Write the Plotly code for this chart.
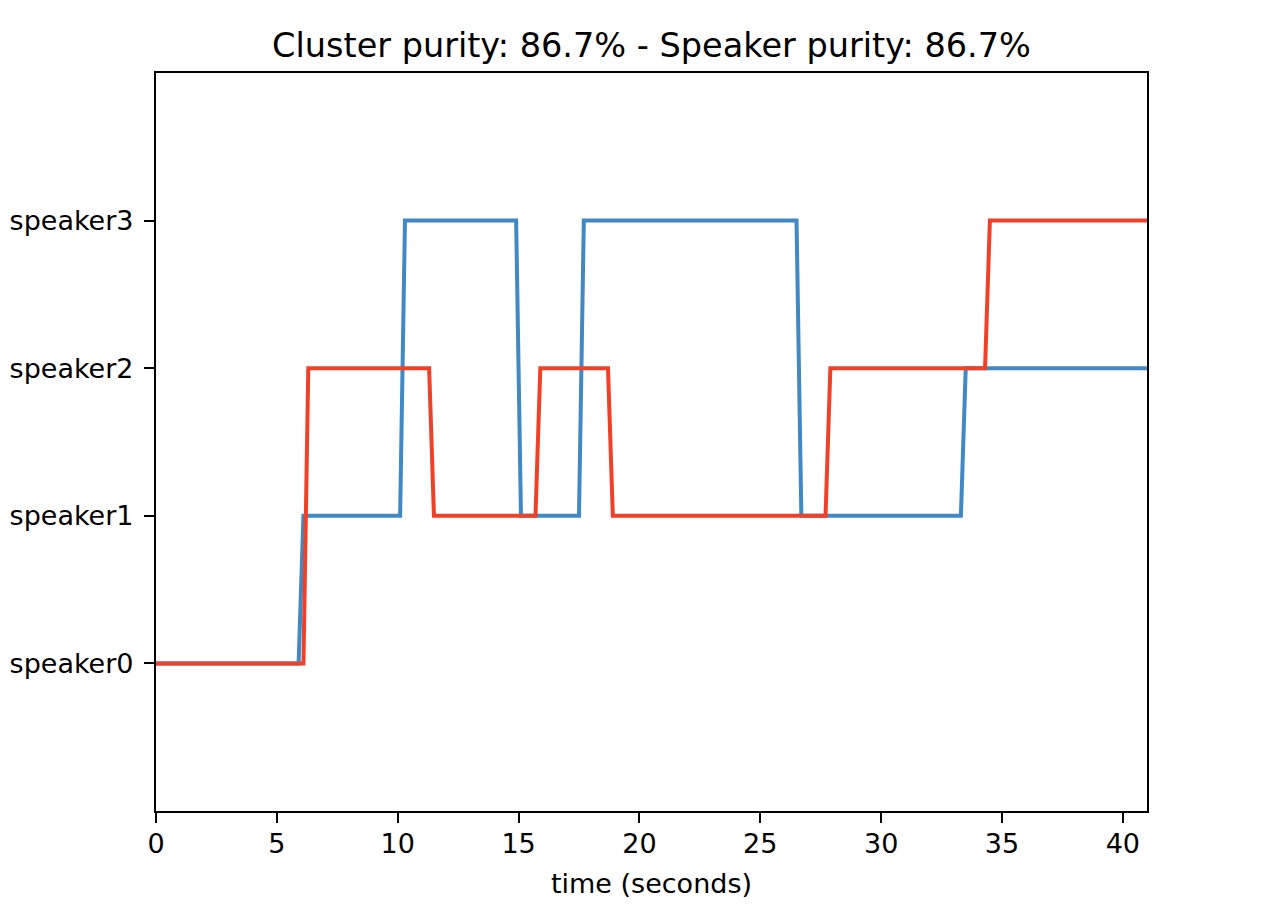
import plotly.graph_objects as go

# Data: time (s) and speaker index for each labelling
speakers = ["speaker0", "speaker1", "speaker2", "speaker3"]
speaker_idx = [0, 1, 2, 3]

blue_t = [0, 5.9, 6.1, 10.1, 10.3, 14.9, 15.1, 17.5, 17.7, 26.5, 26.7, 33.3, 33.5, 41]
blue_y = [0, 0, 1, 1, 3, 3, 1, 1, 3, 3, 1, 1, 2, 2]

red_t = [0, 6.1, 6.3, 11.3, 11.5, 15.7, 15.9, 18.7, 18.9, 27.7, 27.9, 34.3, 34.5, 41]
red_y = [0, 0, 2, 2, 1, 1, 2, 2, 1, 1, 2, 2, 3, 3]

x_ticks = [0, 5, 10, 15, 20, 25, 30, 35, 40]

title_text = "Cluster purity: 86.7% - Speaker purity: 86.7%"
x_title = "time (seconds)"

FONT = "DejaVu Sans"
BLUE = "#4189c4"
RED = "#ef4128"

fig = go.Figure()
fig.add_trace(go.Scatter(x=blue_t, y=blue_y, mode="lines",
                         line=dict(color=BLUE, width=4), showlegend=False))
fig.add_trace(go.Scatter(x=red_t, y=red_y, mode="lines",
                         line=dict(color=RED, width=4), showlegend=False))

axis_common = dict(
    showgrid=False, zeroline=False, showline=True, mirror=True,
    linecolor="black", linewidth=2.2, ticks="outside", ticklen=10,
    tickwidth=2.2, tickcolor="black",
    tickfont=dict(family=FONT, size=27, color="black"),
)

fig.update_layout(
    width=1266, height=908,
    margin=dict(l=156, r=119, t=73, b=97, autoexpand=False),
    paper_bgcolor="white", plot_bgcolor="white",
    font=dict(family=FONT, color="black"),
    title=dict(text=title_text, x=(156 + 1147) / 2 / 1266, xanchor="center",
               y=1 - 45 / 908, yref="container", yanchor="middle",
               font=dict(family=FONT, size=33.5, color="black")),
    xaxis=dict(range=[0, 41], tickvals=x_ticks, ticklabelstandoff=-3,
               title=dict(text=x_title, font=dict(family=FONT, size=27, color="black"),
                          standoff=17),
               **axis_common),
    yaxis=dict(range=[-1, 4], tickvals=speaker_idx, ticktext=speakers,
               ticklabelstandoff=5,
               **axis_common),
)

fig.write_html("out.html",
               config={"displayModeBar": False},
               post_script="document.body.style.margin='0';document.body.style.overflow='hidden';")
